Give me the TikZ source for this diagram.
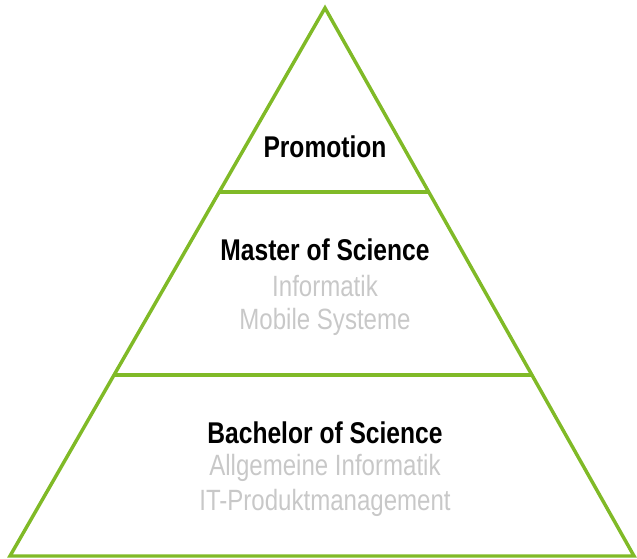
\documentclass[tikz,border=0pt]{standalone}
\usepackage{fontspec}
\setmainfont[FakeStretch=0.82]{Liberation Sans}
\usetikzlibrary{calc}
\definecolor{pyrgreen}{HTML}{80BA27}
\definecolor{pyrgray}{HTML}{C8C8C8}
\tikzset{
    level/.style = {font=\fontsize{22.5}{26}\selectfont\bfseries, text=black},
    course/.style = {font=\fontsize{22}{26}\selectfont, text=pyrgray}
}
\begin{document}
\begin{tikzpicture}[x=0.75pt, y=-0.75pt]
    \useasboundingbox (0, 0) rectangle (637, 559);
    \path   coordinate (T) at (325, 8)
            coordinate (L) at (10, 556)
            coordinate (R) at (634, 556);
    \draw[pyrgreen, line width=2.6pt, line join=miter] (T) -- (L) -- (R) -- cycle;
    \draw[pyrgreen, line width=2.6pt] ($(T)!0.336!(L)$) -- ($(T)!0.336!(R)$);
    \draw[pyrgreen, line width=2.6pt] ($(T)!0.67!(L)$) -- ($(T)!0.67!(R)$);
    \path   node[level] (prom) at (325, 147) {Promotion}
            node[level] (msc) at (325, 250) {Master of Science}
            node[course] (msc1) at (325, 286) {Informatik}
            node[course] (msc2) at (325, 322) {Mobile Systeme}
            node[level] (bsc) at (325, 433) {Bachelor of Science}
            node[course] (bsc1) at (325, 468) {Allgemeine Informatik}
            node[course] (bsc2) at (325, 503) {IT-Produktmanagement};
\end{tikzpicture}
\end{document}
